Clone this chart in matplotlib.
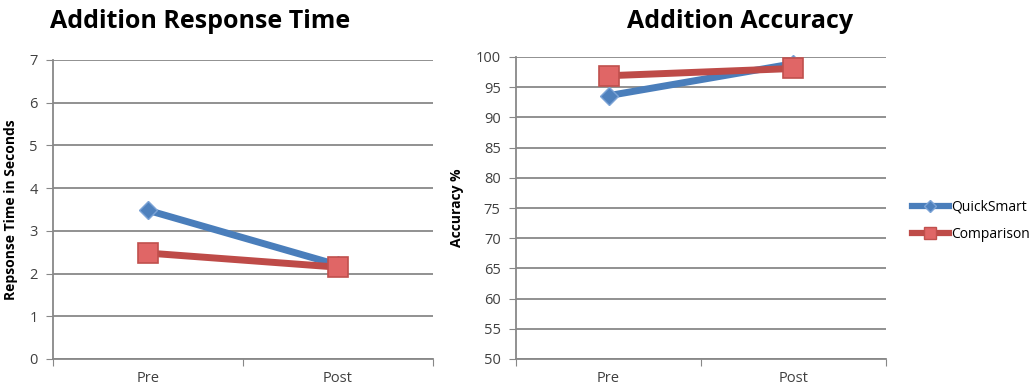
import matplotlib
matplotlib.use('Agg')
import matplotlib.pyplot as plt
from matplotlib.lines import Line2D

plt.rcParams['font.family'] = ['Open Sans', 'DejaVu Sans']

phases = ["Pre", "Post"]
series = ["QuickSmart", "Comparison"]

time_quicksmart = [3.48, 2.20]
time_comparison = [2.48, 2.15]

acc_quicksmart = [93.6, 98.9]
acc_comparison = [96.9, 98.1]

W, H = 1034, 390
fig = plt.figure(figsize=(W / 100, H / 100), dpi=100)

GRID = "#888888"
BLUE_LINE = "#4A7EBB"
RED_LINE = "#BE4B48"
BLUE_MARK = "#4F81BD"
RED_MARK = "#E06666"


def px_axes(x0, y0, x1, y1):
    return fig.add_axes([x0 / W, 1 - y1 / H, (x1 - x0) / W, (y1 - y0) / H])


def style_panel(ax, ymin, ymax, step, ylabel, title, title_x):
    ax.set_xlim(0, 2)
    ax.set_ylim(ymin, ymax)
    ax.set_yticks(range(ymin, ymax + 1, step))
    ax.set_xticks([0, 1, 2])
    ax.set_xticks([0.5, 1.5], minor=True)
    ax.set_xticklabels([])
    ax.set_xticklabels(phases, minor=True)
    ax.tick_params(axis='x', which='minor', length=0, pad=9, labelsize=10.5, colors="#404040")
    ax.tick_params(axis='x', which='major', length=5, direction='out', color=GRID)
    ax.tick_params(axis='y', length=5, direction='out', color=GRID, labelsize=10.5,
                   labelcolor="#404040", pad=6)
    ax.yaxis.grid(True, color=GRID, linewidth=1.3)
    ax.set_axisbelow(True)
    for side in ["top", "right"]:
        ax.spines[side].set_visible(False)
    for side in ["left", "bottom"]:
        ax.spines[side].set_color(GRID)
        ax.spines[side].set_linewidth(1.3)
    ax.set_ylabel(ylabel, fontsize=10, fontweight='bold', labelpad=8)
    fig.text(title_x / W, 1 - 22 / H, title, fontsize=18, fontweight='bold',
             ha='center', va='center')


def draw_series(ax, q, c):
    x = [0.5, 1.5]
    ax.plot(x, q, color=BLUE_LINE, linewidth=5, marker='D', markersize=9,
            markerfacecolor=BLUE_MARK, markeredgecolor="#7BA3D6", markeredgewidth=1,
            solid_capstyle='butt', zorder=3, clip_on=False)
    ax.plot(x, c, color=RED_LINE, linewidth=5, marker='s', markersize=14,
            markerfacecolor=RED_MARK, markeredgecolor="#C0504D", markeredgewidth=1.2,
            solid_capstyle='butt', zorder=4, clip_on=False)


ax1 = px_axes(53, 60, 433, 359)
style_panel(ax1, 0, 7, 1, "Repsonse Time in Seconds", "Addition Response Time", 200)
draw_series(ax1, time_quicksmart, time_comparison)

ax2 = px_axes(516, 57, 886, 359)
style_panel(ax2, 50, 100, 5, "Accuracy %", "Addition Accuracy", 740)
draw_series(ax2, acc_quicksmart, acc_comparison)

handles = [
    Line2D([], [], color=BLUE_LINE, linewidth=4.5, marker='D', markersize=6,
           markerfacecolor=BLUE_MARK, markeredgecolor="#7BA3D6"),
    Line2D([], [], color=RED_LINE, linewidth=4.5, marker='s', markersize=9,
           markerfacecolor=RED_MARK, markeredgecolor="#C0504D"),
]
fig.legend(handles, series, loc='upper left', bbox_to_anchor=(906 / W, 1 - 194 / H),
           frameon=False, handlelength=2.7, handletextpad=0.15,
           labelspacing=0.9, borderaxespad=0, fontsize=10)

fig.savefig("out.png", dpi=100)
